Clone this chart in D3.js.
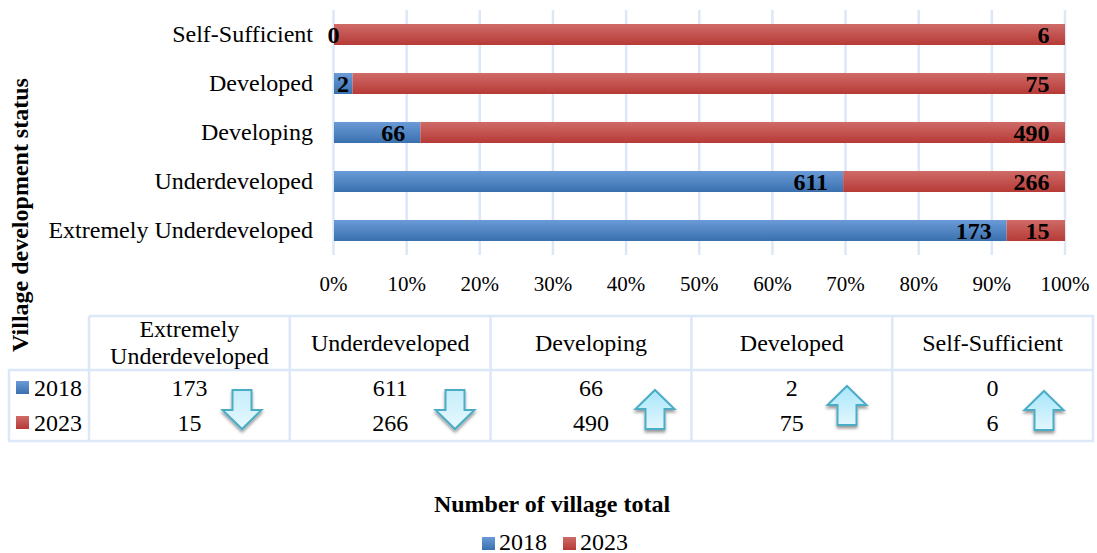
<!DOCTYPE html>
<html><head><meta charset="utf-8">
<script src="https://cdnjs.cloudflare.com/ajax/libs/d3/7.8.5/d3.min.js"></script>
<style>html,body{margin:0;padding:0;background:#fff}svg{display:block}text{font-family:"Liberation Serif",serif;fill:#000}</style>
</head><body><div id="c"></div>
<script>
const categories=["Self-Sufficient","Developed","Developing","Underdeveloped","Extremely Underdeveloped"];
const values2018=[0,2,66,611,173];
const values2023=[6,75,490,266,15];
const tableHeaders=[["Extremely","Underdeveloped"],["Underdeveloped"],["Developing"],["Developed"],["Self-Sufficient"]];
const table2018=[173,611,66,2,0];
const table2023=[15,266,490,75,6];
const arrowDirs=["down","down","up","up","up"];
const arrowCx=[242,455,655,847,1044];
const arrowTop=[390,390,390,386,391];
const ticks=[0,.1,.2,.3,.4,.5,.6,.7,.8,.9,1];
const colBlue=["#6a9bd8","#3a70ae"],colRed=["#cf6b68","#b63a36"],grid="#dce7f7";

const W=1097,H=553,FS=24;
const svg=d3.select("#c").append("svg").attr("width",W).attr("height",H);
const defs=svg.append("defs");
function grad(id,c){const g=defs.append("linearGradient").attr("id",id).attr("x1",0).attr("x2",0).attr("y1",0).attr("y2",1);
 g.append("stop").attr("offset",0).attr("stop-color",c[0]);g.append("stop").attr("offset",1).attr("stop-color",c[1]);}
grad("gb",colBlue);grad("gr",colRed);
grad("ad",["#c6eefb","#e6f8fe"]);grad("au",["#a8e6fb","#e2f7fe"]);
const f=defs.append("filter").attr("id","sh").attr("x","-30%").attr("y","-30%").attr("width","160%").attr("height","170%");
f.append("feDropShadow").attr("dx",0).attr("dy",2.5).attr("stdDeviation",1.6).attr("flood-color","#000").attr("flood-opacity",.4);

const x=d3.scaleLinear().domain([0,1]).range([333.5,1065]);
const y=d3.scaleBand().domain(categories).range([10,255]).paddingInner(.571).paddingOuter(.2855);

svg.append("g").selectAll("line").data(ticks).join("line")
 .attr("x1",d=>x(d)).attr("x2",d=>x(d)).attr("y1",10).attr("y2",255)
 .attr("stroke",grid).attr("stroke-width",2.5);

const rows=categories.map((c,i)=>({c,a:values2018[i],b:values2023[i],t:values2018[i]+values2023[i]}));
const g=svg.append("g");
g.selectAll("rect.a").data(rows).join("rect").attr("class","a").attr("x",x(0)+.5).attr("y",d=>y(d.c))
 .attr("width",d=>Math.max(0,x(d.a/d.t)-x(0)-.5)).attr("height",y.bandwidth()).attr("fill","url(#gb)");
g.selectAll("rect.b").data(rows).join("rect").attr("class","b").attr("x",d=>x(d.a/d.t)+(d.a?0:.5)).attr("y",d=>y(d.c))
 .attr("width",d=>x(1)-x(d.a/d.t)-(d.a?0:.5)).attr("height",y.bandwidth()).attr("fill","url(#gr)");
const mid=d=>y(d.c)+y.bandwidth()/2+8;
g.selectAll("text.a").data(rows).join("text").attr("class","a").attr("font-weight","bold").attr("font-size",FS)
 .attr("y",mid)
 .attr("x",d=>{const w=x(d.a/d.t)-x(0);return w<40?x(0)+w/2:x(d.a/d.t)-15;})
 .attr("text-anchor",d=>(x(d.a/d.t)-x(0))<40?"middle":"end").text(d=>d.a);
g.selectAll("text.b").data(rows).join("text").attr("class","b").attr("font-weight","bold").attr("font-size",FS)
 .attr("y",mid).attr("x",x(1)-15.5).attr("text-anchor","end").text(d=>d.b);

svg.append("g").selectAll("text").data(categories).join("text")
 .attr("x",313).attr("y",c=>y(c)+y.bandwidth()/2+7).attr("text-anchor","end").attr("font-size",FS).text(c=>c);
svg.append("g").selectAll("text").data(ticks).join("text")
 .attr("x",d=>x(d)).attr("y",291).attr("text-anchor","middle").attr("font-size",21).text(d=>d3.format(".0%")(d));

svg.append("text").attr("transform","translate(28,215) rotate(-90)").attr("text-anchor","middle")
 .attr("font-weight","bold").attr("font-size",FS).text("Village development status");

const cols=d3.scaleLinear().domain([0,5]).range([89,1093]);
const T=svg.append("g").attr("stroke",grid).attr("stroke-width",2.5).attr("fill","none");
T.append("path").attr("d",`M${cols(0)},316H${cols(5)}V441H9V370H${cols(5)}`);
T.selectAll("line").data(d3.range(5)).join("line").attr("x1",i=>cols(i)).attr("x2",i=>cols(i)).attr("y1",316).attr("y2",441);
const cx=i=>cols(i)+(cols(1)-cols(0))/2;
tableHeaders.forEach((h,i)=>{h.forEach((t,j)=>{
 svg.append("text").attr("x",cx(i)).attr("text-anchor","middle").attr("font-size",FS)
  .attr("y",h.length>1?337+j*27:351).text(t);});});
svg.append("g").selectAll("text").data(table2018).join("text").attr("x",(d,i)=>cx(i)).attr("y",396).attr("text-anchor","middle").attr("font-size",FS).text(d=>d);
svg.append("g").selectAll("text").data(table2023).join("text").attr("x",(d,i)=>cx(i)).attr("y",431).attr("text-anchor","middle").attr("font-size",FS).text(d=>d);
[["2018","url(#gb)",396],["2023","url(#gr)",431]].forEach(([s,c,yy])=>{
 svg.append("rect").attr("x",16).attr("y",yy-15).attr("width",13).attr("height",13).attr("fill",c);
 svg.append("text").attr("x",34).attr("y",yy).attr("font-size",FS).text(s);
});
function arrow(dir){const w=19.5,s=9.5,h=39,hh=19;
 return dir==="down"
  ?`M${-s},0H${s}V${h-hh}H${w}L0,${h}L${-w},${h-hh}H${-s}Z`
  :`M0,0L${w},${hh}H${s}V${h}H${-s}V${hh}H${-w}Z`;}
svg.append("g").selectAll("path").data(arrowDirs).join("path")
 .attr("transform",(d,i)=>`translate(${arrowCx[i]},${arrowTop[i]})`)
 .attr("d",arrow).attr("fill",d=>d==="down"?"url(#ad)":"url(#au)")
 .attr("stroke","#4bacc6").attr("stroke-width",2).attr("filter","url(#sh)");

svg.append("text").attr("x",552).attr("y",512).attr("text-anchor","middle").attr("font-weight","bold").attr("font-size",FS).text("Number of village total");
[["2018","url(#gb)",482],["2023","url(#gr)",563]].forEach(([s,c,xx])=>{
 svg.append("rect").attr("x",xx).attr("y",537).attr("width",13).attr("height",13).attr("fill",c);
 svg.append("text").attr("x",xx+17).attr("y",549.5).attr("font-size",FS).text(s);
});
</script></body></html>
